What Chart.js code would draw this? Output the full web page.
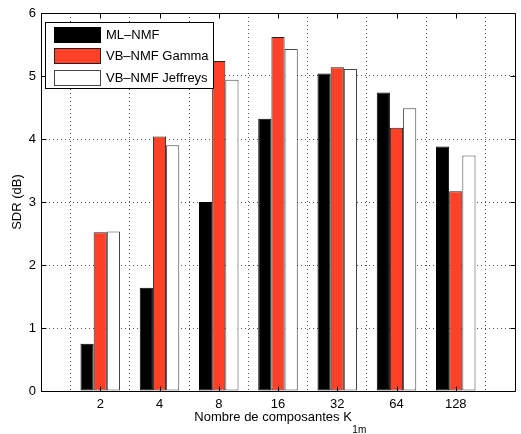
<!DOCTYPE html>
<html>
<head>
<meta charset="utf-8">
<script src="https://cdn.jsdelivr.net/npm/chart.js@4"></script>
<style>
  html, body { margin: 0; padding: 0; background: #fff; }
  #wrap { width: 521px; height: 434px; }
</style>
</head>
<body>
<div id="wrap"><canvas id="myChart" width="521" height="434"></canvas></div>
<script>
const categories = ['2', '4', '8', '16', '32', '64', '128'];
const mlNmf = [0.75, 1.64, 3.0, 4.32, 5.04, 4.74, 3.88];
const vbGamma = [2.52, 4.04, 5.24, 5.62, 5.14, 4.18, 3.17];
const vbJeffreys = [2.53, 3.90, 4.94, 5.43, 5.11, 4.49, 3.74];
const yTicks = [0, 1, 2, 3, 4, 5, 6];

const FONT = "'Liberation Sans', Arial, Helvetica, sans-serif";

// empty slot at each end so the axis runs 0..8 like the original
const pad = arr => [null, ...arr, null];
const labels = ['', ...categories, ''];

// frame with inward tick marks, drawn over the bars
const framePlugin = {
    id: 'frame',
    afterDatasetsDraw(chart) {
        const { ctx, chartArea: a, scales: { x, y } } = chart;
        const snap = v => Math.round(v) + 0.5;
        ctx.save();
        ctx.strokeStyle = '#000';
        ctx.lineWidth = 1;
        ctx.beginPath();
        ctx.rect(snap(a.left), snap(a.top), Math.round(a.right - a.left), Math.round(a.bottom - a.top));
        categories.forEach((c, i) => {
            const px = snap(x.getPixelForValue(i + 1));
            ctx.moveTo(px, snap(a.bottom)); ctx.lineTo(px, snap(a.bottom) - 5);
            ctx.moveTo(px, snap(a.top)); ctx.lineTo(px, snap(a.top) + 5);
        });
        yTicks.forEach(v => {
            const py = snap(y.getPixelForValue(v));
            ctx.moveTo(snap(a.left), py); ctx.lineTo(snap(a.left) + 5, py);
            ctx.moveTo(snap(a.right), py); ctx.lineTo(snap(a.right) - 5, py);
        });
        ctx.stroke();
        ctx.restore();
    }
};

// legend box inside the plot, top left
const legendPlugin = {
    id: 'innerLegend',
    afterDraw(chart) {
        const ctx = chart.ctx;
        const bx = 45.5, by = 22.5, bw = 168, bh = 66;
        ctx.save();
        ctx.fillStyle = '#fff';
        ctx.fillRect(bx, by, bw, bh);
        ctx.strokeStyle = '#000';
        ctx.lineWidth = 1;
        ctx.strokeRect(bx, by, bw, bh);
        ctx.font = '13px ' + FONT;
        ctx.textBaseline = 'middle';
        chart.data.datasets.forEach((ds, i) => {
            const cy = 34.5 + i * 21.3;
            ctx.fillStyle = ds.backgroundColor;
            ctx.fillRect(54.5, Math.round(cy - 7.5) + 0.5, 46, 15);
            ctx.strokeStyle = ds.borderColor;
            ctx.strokeRect(54.5, Math.round(cy - 7.5) + 0.5, 46, 15);
            ctx.fillStyle = '#000';
            ctx.fillText(ds.label, 106, cy + 1);
        });
        ctx.restore();
    }
};

// axis titles (x title has a subscript)
const titlesPlugin = {
    id: 'titles',
    afterDraw(chart) {
        const { ctx, chartArea: a } = chart;
        ctx.save();
        ctx.fillStyle = '#000';
        ctx.textBaseline = 'alphabetic';

        const main = 'Nombre de composantes K';
        const sub = '1m';
        ctx.font = '13px ' + FONT;
        const wMain = ctx.measureText(main).width;
        ctx.font = '10px ' + FONT;
        const wSub = ctx.measureText(sub).width;
        const x0 = 280 - (wMain + wSub) / 2;
        ctx.font = '13px ' + FONT;
        ctx.textAlign = 'left';
        ctx.fillText(main, x0, 421);
        ctx.font = '10px ' + FONT;
        ctx.fillText(sub, x0 + wMain + 0.5, 433);

        ctx.font = '13px ' + FONT;
        ctx.translate(21, (a.top + a.bottom) / 2);
        ctx.rotate(-Math.PI / 2);
        ctx.textAlign = 'center';
        ctx.fillText('SDR (dB)', 0, 0);
        ctx.restore();
    }
};

const ctx = document.getElementById('myChart').getContext('2d');

new Chart(ctx, {
    type: 'bar',
    data: {
        labels: labels,
        datasets: [
            { label: 'ML–NMF', data: pad(mlNmf), backgroundColor: '#000000', borderColor: '#000000' },
            { label: 'VB–NMF Gamma', data: pad(vbGamma), backgroundColor: '#ff4127', borderColor: '#222222' },
            { label: 'VB–NMF Jeffreys', data: pad(vbJeffreys), backgroundColor: '#ffffff', borderColor: '#444444' }
        ].map(d => Object.assign(d, {
            borderWidth: 1,
            borderSkipped: false,
            categoryPercentage: 0.667,
            barPercentage: 1
        }))
    },
    options: {
        responsive: false,
        animation: false,
        // right edge of the axes box sits just past the canvas, as in the original
        layout: { padding: { top: 13, right: -2, left: 0, bottom: 0 } },
        plugins: {
            legend: { display: false },
            tooltip: { enabled: false }
        },
        scales: {
            x: {
                offset: false,
                grid: { color: '#555', lineWidth: 1, drawTicks: false },
                border: { display: false, dash: [1, 3] },
                ticks: {
                    color: '#000',
                    font: { family: FONT, size: 13 },
                    padding: 6,
                    autoSkip: false,
                    maxRotation: 0
                },
                afterFit: s => { s.height = 43; }
            },
            y: {
                min: 0,
                max: 6,
                grid: { color: '#555', lineWidth: 1, drawTicks: false },
                border: { display: false, dash: [1, 3] },
                ticks: {
                    stepSize: 1,
                    color: '#000',
                    font: { family: FONT, size: 13 },
                    padding: 5
                },
                afterFit: s => { s.width = 41; }
            }
        }
    },
    plugins: [framePlugin, legendPlugin, titlesPlugin]
});
</script>
</body>
</html>
